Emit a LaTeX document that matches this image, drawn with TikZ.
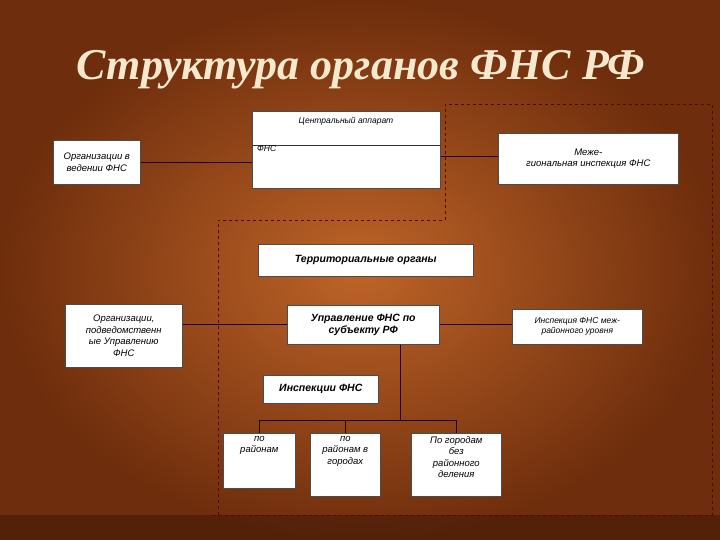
\documentclass[tikz,border=0pt]{standalone}
\usepackage{fontspec}
\setmainfont{Liberation Sans}
\newfontfamily\titlefont{Liberation Serif}
\begin{document}
\begin{tikzpicture}[x=1pt,y=-1pt,
  bx/.style={draw=black!70,fill=white,line width=0.6pt,inner sep=2pt,align=center,font=\itshape\fontsize{9.5}{11.5}\selectfont},
  bbx/.style={bx,font=\bfseries\itshape\fontsize{10.5}{12.5}\selectfont},
  bt/.style={anchor=north,align=center,inner sep=3pt,font=\itshape\fontsize{9.5}{11.5}\selectfont},
  ln/.style={draw=black!85!red,line width=0.7pt},
  dsh/.style={draw=red!40!black,dashed,line width=0.8pt}]
\useasboundingbox (0,0) rectangle (720,540);
\shade[inner color={rgb,255:red,190;green,100;blue,40},outer color={rgb,255:red,110;green,45;blue,12}] (0,0) rectangle (720,540);
\fill[black,opacity=0.25] (0,515) rectangle (720,540);
\node[font=\titlefont\bfseries\itshape\fontsize{44}{46}\selectfont,text={rgb,255:red,245;green,232;blue,205}] (title) at (361,70) {Структура органов ФНС РФ};
% dashed region
\draw[dsh] (445,220) -- (445,104) -- (712,104) -- (712,515) -- (212,515) (218,515) -- (218,220) -- (445,220);
% central
\node[bx,minimum width=188,minimum height=77,anchor=north west] (ca) at (252,111) {};
\draw[black!80] (ca.west |- 0,145) coordinate (cl) -- (ca.east |- 0,145) coordinate (cr);
\node[font=\itshape\fontsize{8.5}{10}\selectfont] (cat) at (346,121) {Центральный аппарат};
\node[font=\itshape\fontsize{8.5}{10}\selectfont,anchor=north west,inner sep=1pt] (fns) at (256,144) {ФНС};
\node[bx,minimum width=87,minimum height=44,anchor=north west] (org1) at (53,140) {Организации в\\ведении ФНС};
\node[bx,minimum width=180,minimum height=51,anchor=north west] (mr) at (498,133) {Меже-\\гиональная инспекция ФНС};
\draw[ln] (org1.east) -- (org1.east -| ca.west);
\draw[ln] (ca.east |- 0,156) -- (mr.west |- 0,156);
\node[bbx,minimum width=215,minimum height=32,anchor=north west] (terr) at (258,244) {Территориальные органы};
\node[bx,minimum width=117,minimum height=63,anchor=north west] (org2) at (65,304) {Организации,\\подведомственн\\ые Управлению\\ФНС};
\node[bbx,minimum width=152,minimum height=39,anchor=north west] (upr) at (287,305) {Управление ФНС по\\субъекту РФ};
\node[bx,font=\itshape\fontsize{8.5}{10}\selectfont,minimum width=130,minimum height=35,anchor=north west] (imr) at (512,309) {Инспекция ФНС меж-\\районного уровня};
\draw[ln] (org2.east |- upr.west) -- (upr.west);
\draw[ln] (upr.east) -- (imr.west |- upr.east);
\node[bbx,minimum width=115,minimum height=28,anchor=north west] (insp) at (263,375) {Инспекции ФНС};
\node[bx,minimum width=72,minimum height=55,anchor=north west] (b1) at (223,433) {};
\node[bt] (b1t) at (b1.north) {по\\районам};
\node[bx,minimum width=70,minimum height=63,anchor=north west] (b2) at (310,433) {};
\node[bt] (b2t) at (b2.north) {по\\районам в\\городах};
\node[bx,minimum width=90,minimum height=63,anchor=north west] (b3) at (411,433) {};
\node[bt] (b3t) at (b3.north) {По городам\\без\\районного\\деления};
\coordinate (j) at (400,420);
\draw[ln] (upr.south -| j) -- (j);
\draw[ln] (b1.north |- j) -- (b3.north |- j);
\draw[ln] (b1.north |- j) -- (b1.north);
\draw[ln] (b2.north |- j) -- (b2.north);
\draw[ln] (b3.north |- j) -- (b3.north);
\end{tikzpicture}
\end{document}
